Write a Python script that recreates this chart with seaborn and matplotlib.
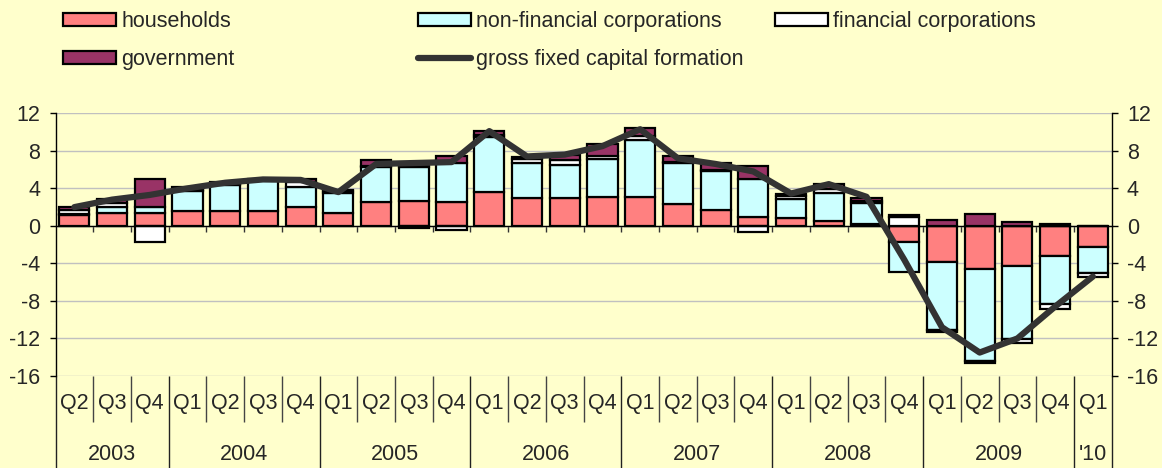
import numpy as np
import pandas as pd
import matplotlib
matplotlib.use("Agg")
import matplotlib.pyplot as plt
from matplotlib.patches import Patch
from matplotlib.lines import Line2D
import seaborn as sns

# quarters 2003Q2 .. 2010Q1
quarters = ["Q2", "Q3", "Q4",
            "Q1", "Q2", "Q3", "Q4",
            "Q1", "Q2", "Q3", "Q4",
            "Q1", "Q2", "Q3", "Q4",
            "Q1", "Q2", "Q3", "Q4",
            "Q1", "Q2", "Q3", "Q4",
            "Q1", "Q2", "Q3", "Q4",
            "Q1"]
years = ["2003"] * 3 + ["2004"] * 4 + ["2005"] * 4 + ["2006"] * 4 + \
        ["2007"] * 4 + ["2008"] * 4 + ["2009"] * 4 + ["'10"]

households = [1.15, 1.4, 1.4, 1.6, 1.6, 1.6, 2.05, 1.4, 2.5, 2.7, 2.5, 3.6, 2.95, 2.95,
              3.1, 3.1, 2.3, 1.7, 1.0, 0.8, 0.55, 0.25, -1.7, -3.9, -4.55, -4.3, -3.2, -2.3]
non_financial = [0.15, 0.6, 0.6, 2.1, 2.75, 3.3, 2.05, 2.15, 3.75, 3.55, 4.2, 5.85, 3.8, 3.55,
                 4.0, 6.1, 4.45, 4.15, 3.95, 2.1, 3.0, 2.15, -3.2, -7.2, -9.85, -7.75, -5.15, -2.75]
financial = [0.35, 0.45, -1.7, 0.1, 0.1, 0.0, 0.6, 0.15, 0.15, -0.25, -0.45, 0.25, 0.35, 0.5,
             0.35, 0.35, 0.1, 0.1, -0.65, 0.25, 0.35, 0.3, 1.0, -0.25, -0.25, -0.4, -0.55, -0.4]
government = [0.4, 0.45, 3.0, 0.3, 0.25, 0.1, 0.35, 0.15, 0.6, 0.1, 0.7, 0.4, 0.25, 0.55,
              1.25, 0.85, 0.55, 0.75, 1.4, 0.3, 0.55, 0.25, 0.2, 0.65, 1.25, 0.4, 0.2, 0.0]
gfcf = [2.0, 2.8, 3.3, 4.0, 4.6, 4.95, 4.9, 3.6, 6.6, 6.7, 6.8, 10.1, 7.4, 7.6,
        8.5, 10.3, 7.2, 6.6, 5.8, 3.45, 4.45, 3.1, -3.6, -10.8, -13.5, -12.0, -8.6, -5.4]

series = [("households", households, "#FF8080"),
          ("non-financial corporations", non_financial, "#CCFFFF"),
          ("financial corporations", financial, "#FFFFFF"),
          ("government", government, "#993366")]

n = len(quarters)
keys = [y + q for y, q in zip(years, quarters)]
bg = "#FFFFCC"
fs = 15.5

sns.set_theme(style="white")
plt.rcParams["font.family"] = ["Liberation Sans", "DejaVu Sans"]
plt.rcParams["axes.unicode_minus"] = False

fig = plt.figure(figsize=(11.62, 4.68), dpi=100, facecolor=bg)
ax = fig.add_axes([55.5 / 1162, 1 - 376 / 468, (1111.7 - 55.5) / 1162, (376 - 113.3) / 468])
ax.set_facecolor(bg)

# stacked bars: positives go up, negatives go down
pos_base = np.zeros(n)
neg_base = np.zeros(n)
for name, vals, col in series:
    v = np.array(vals)
    bottom = np.where(v >= 0, pos_base, neg_base)
    df = pd.DataFrame({"key": keys, "val": v})
    sns.barplot(data=df, x="key", y="val", order=keys, color=col, saturation=1,
                width=0.8, bottom=bottom, edgecolor="black", linewidth=1.6,
                errorbar=None, ax=ax, zorder=2)
    pos_base = np.where(v >= 0, pos_base + v, pos_base)
    neg_base = np.where(v < 0, neg_base + v, neg_base)

sns.lineplot(x=np.arange(n), y=gfcf, color="#333333", linewidth=4.5, ax=ax,
             zorder=3, sort=False)

ax.set_xlim(-0.5, n - 0.5)
ax.set_ylim(-16, 12)
ax.set_yticks(np.arange(-16, 13, 4))
ax.set_xlabel("")
ax.set_ylabel("")
ax.set_axisbelow(True)
ax.yaxis.grid(True, color="#C0C0C0", linewidth=1)
ax.xaxis.grid(False)

ax.spines["top"].set_visible(False)
ax.spines["right"].set_visible(False)
ax.spines["bottom"].set_position(("data", 0))
ax.spines["bottom"].set_color("black")
ax.spines["bottom"].set_linewidth(1)
ax.spines["bottom"].set_zorder(2.5)
ax.spines["left"].set_color("black")
ax.spines["left"].set_linewidth(1)
ax.set_xticks(np.arange(n - 1) + 0.5)
ax.set_xticklabels([])
ax.tick_params(axis="x", direction="out", length=4, width=1, color="#333333", bottom=True)
ax.tick_params(axis="y", direction="out", length=4, width=1, color="black",
               labelsize=fs, pad=7, left=True)

ax2 = ax.twinx()
ax2.set_ylim(-16, 12)
ax2.set_yticks(np.arange(-16, 13, 4))
for s in ["top", "bottom", "left"]:
    ax2.spines[s].set_visible(False)
ax2.spines["right"].set_color("black")
ax2.spines["right"].set_linewidth(1)
ax2.tick_params(axis="y", direction="out", length=4, width=1, color="black",
                labelsize=fs, pad=7, right=True)
ax2.grid(False)

# two-level category axis below the plot area
tr = ax.get_xaxis_transform()
year_starts = [i for i in range(n) if i == 0 or years[i] != years[i - 1]]
for b in range(n + 1):
    full = b in year_starts or b == n
    ax.vlines(b - 0.5, -0.36 if full else -0.175, 0, transform=tr, clip_on=False,
              color="#222222" if full else "#444444", linewidth=1)
for i, q in enumerate(quarters):
    ax.text(i, -0.103, q, transform=tr, ha="center", va="center", fontsize=fs)
for k, s in enumerate(year_starts):
    e = year_starts[k + 1] if k + 1 < len(year_starts) else n
    ax.text((s + e - 1) / 2, -0.30, years[s], transform=tr, ha="center",
            va="center", fontsize=fs)

# legend in three columns
h = {name: Patch(facecolor=col, edgecolor="black", linewidth=1.6) for name, _, col in series}
line_h = Line2D([0], [0], color="#333333", linewidth=4.5)
cols = [(63, [h["households"], h["government"]], ["households", "government"]),
        (418, [h["non-financial corporations"], line_h],
         ["non-financial corporations", "gross fixed capital formation"]),
        (775, [h["financial corporations"]], ["financial corporations"])]
for x0, hs, ls in cols:
    fig.legend(hs, ls, loc="upper left", bbox_to_anchor=(x0 / 1162, 1 - 11 / 468),
               frameon=False, borderpad=0, borderaxespad=0, handlelength=2.45,
               handleheight=0.55, handletextpad=0.25, labelspacing=0.78, fontsize=fs)

fig.savefig("out.png", dpi=100, facecolor=bg)
